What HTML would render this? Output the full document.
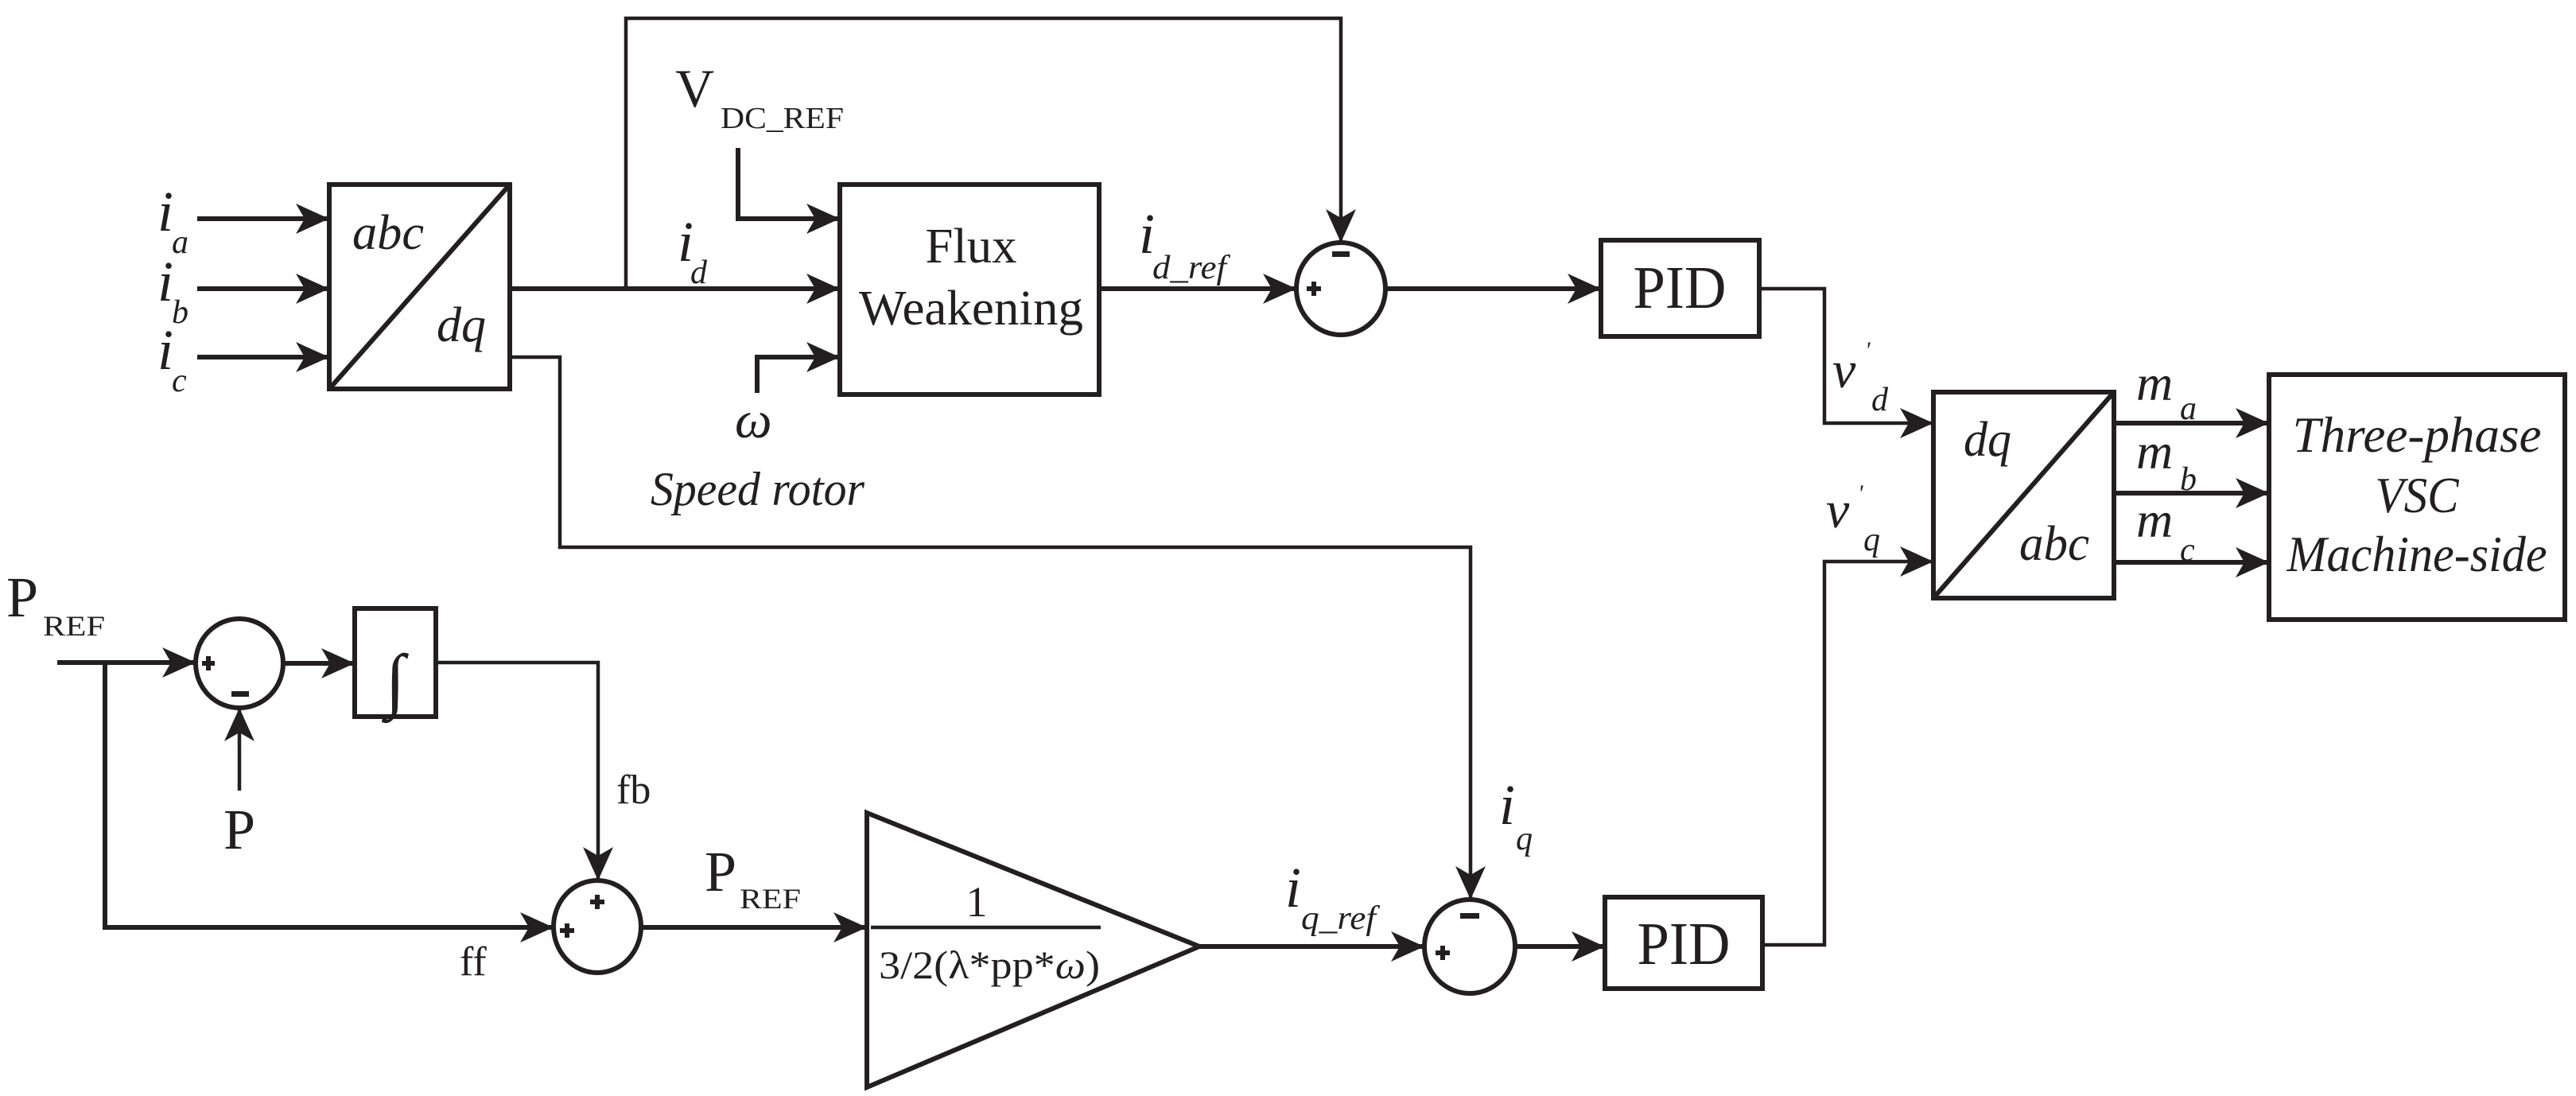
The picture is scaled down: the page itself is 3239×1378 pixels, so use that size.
<!DOCTYPE html>
<html><head><meta charset="utf-8"><style>html,body{margin:0;padding:0;background:#fff}svg{display:block}text{font-family:"Liberation Serif",serif;fill:#231f20}</style></head>
<body>
<svg width="3239" height="1378" viewBox="0 0 3239 1378" xmlns="http://www.w3.org/2000/svg">
<defs>
<marker id="a" markerUnits="userSpaceOnUse" markerWidth="44" markerHeight="40" refX="42" refY="19" orient="auto">
<path d="M0,0 L42,19 L0,38 L11,19 z" fill="#231f20"/>
</marker>
</defs>
<g fill="none" stroke="#231f20" stroke-width="6">
<path d="M248,275 H414" marker-end="url(#a)"/>
<path d="M248,363 H414" marker-end="url(#a)"/>
<path d="M248,449 H414" marker-end="url(#a)"/>
<rect x="414" y="232" width="227" height="257"/>
<path d="M414,489 L641,232"/>
<path d="M641,363 H1056" marker-end="url(#a)"/>
<path d="M928,186 V275 H1056" marker-end="url(#a)"/>
<path d="M952,494 V449 H1056" marker-end="url(#a)"/>
<rect x="1056" y="232" width="326" height="264"/>
<path d="M1382,363 H1630" marker-end="url(#a)"/>
<ellipse cx="1686" cy="363" rx="56" ry="58"/>
<path d="M1742,363 H2013" marker-end="url(#a)"/>
<rect x="2013" y="302" width="199" height="121"/>
<rect x="2431" y="493" width="227" height="259"/>
<path d="M2431,752 L2658,493"/>
<path d="M2658,532 H2853" marker-end="url(#a)"/>
<path d="M2658,620 H2853" marker-end="url(#a)"/>
<path d="M2658,707 H2853" marker-end="url(#a)"/>
<rect x="2853" y="471" width="372" height="308"/>
<path d="M72,833 H246" marker-end="url(#a)"/>
<ellipse cx="301" cy="834" rx="55" ry="56"/>
<path d="M356,834 H446" marker-end="url(#a)"/>
<rect x="446" y="765" width="102" height="136"/>
<path d="M132,833 V1166 H696" marker-end="url(#a)"/>
<ellipse cx="751" cy="1165" rx="55" ry="58"/>
<path d="M806,1166 H1090" marker-end="url(#a)"/>
<path d="M1090,1022 L1508,1190 L1090,1367 Z"/>
<path d="M1508,1190 H1791" marker-end="url(#a)"/>
<ellipse cx="1848" cy="1190" rx="57" ry="59"/>
<path d="M1905,1190 H2018" marker-end="url(#a)"/>
<rect x="2018" y="1128" width="198" height="115"/>
</g>
<g fill="none" stroke="#231f20" stroke-width="4.5">
<path d="M787,363 V23 H1686 V305" marker-end="url(#a)"/>
<path d="M641,449 H704 V688 H1849 V1131" marker-end="url(#a)"/>
<path d="M2212,363 H2294 V532 H2431" marker-end="url(#a)"/>
<path d="M2216,1188 H2294 V706 H2431" marker-end="url(#a)"/>
<path d="M548,833 H752 V1107" marker-end="url(#a)"/>
<path d="M301,994 V890" marker-end="url(#a)"/>
<path d="M1095,1166 H1384"/>
</g>
<g fill="#231f20">
<rect x="1643" y="360" width="18" height="6"/><rect x="1649" y="354" width="6" height="18"/>
<rect x="1675" y="316" width="22" height="7"/>
<rect x="254" y="831" width="16" height="6"/><rect x="259" y="825" width="6" height="18"/>
<rect x="291" y="869" width="22" height="7"/>
<rect x="742" y="1131" width="18" height="6"/><rect x="748" y="1125" width="6" height="18"/>
<rect x="704" y="1167" width="18" height="6"/><rect x="710" y="1161" width="6" height="18"/>
<rect x="1836" y="1148" width="24" height="7"/>
<rect x="1805" y="1195" width="18" height="6"/><rect x="1811" y="1189" width="6" height="18"/>
</g>
<g font-style="italic">
<text x="198" y="290" font-size="72">i</text><text x="216" y="318" font-size="42">a</text>
<text x="198" y="378" font-size="72">i</text><text x="216" y="406" font-size="42">b</text>
<text x="198" y="464" font-size="72">i</text><text x="216" y="492" font-size="42">c</text>
<text x="443" y="313" font-size="62" textLength="90" lengthAdjust="spacingAndGlyphs">abc</text>
<text x="549" y="429" font-size="62" textLength="62" lengthAdjust="spacingAndGlyphs">dq</text>
<text x="852" y="328" font-size="72">i</text><text x="868" y="356" font-size="42">d</text>
<text x="1432" y="318" font-size="72">i</text><text x="1449" y="350" font-size="42" textLength="93" lengthAdjust="spacingAndGlyphs">d_ref</text>
<text x="924" y="550" font-size="66">ω</text>
<text x="818" y="635" font-size="60" textLength="269" lengthAdjust="spacingAndGlyphs">Speed rotor</text>
<text x="2469" y="573" font-size="62" textLength="60" lengthAdjust="spacingAndGlyphs">dq</text>
<text x="2539" y="704" font-size="62" textLength="88" lengthAdjust="spacingAndGlyphs">abc</text>
<text x="2304" y="487" font-size="66">v</text><text x="2345" y="450" font-size="30">'</text><text x="2353" y="516" font-size="42">d</text>
<text x="2296" y="663" font-size="66">v</text><text x="2336" y="630" font-size="30">'</text><text x="2343" y="692" font-size="42">q</text>
<text x="2686" y="503" font-size="64">m</text><text x="2741" y="527" font-size="42">a</text>
<text x="2686" y="589" font-size="64">m</text><text x="2741" y="616" font-size="42">b</text>
<text x="2686" y="675" font-size="64">m</text><text x="2741" y="705" font-size="42">c</text>
<text x="3039" y="568" font-size="64" text-anchor="middle" textLength="313" lengthAdjust="spacingAndGlyphs">Three-phase</text>
<text x="3039" y="644" font-size="64" text-anchor="middle" textLength="105" lengthAdjust="spacingAndGlyphs">VSC</text>
<text x="3039" y="718" font-size="64" text-anchor="middle" textLength="327" lengthAdjust="spacingAndGlyphs">Machine-side</text>
<text x="1885" y="1036" font-size="72">i</text><text x="1906" y="1068" font-size="42">q</text>
<text x="1616" y="1140" font-size="72">i</text><text x="1636" y="1168" font-size="42" textLength="94" lengthAdjust="spacingAndGlyphs">q_ref</text>
</g>
<g>
<text x="849" y="134" font-size="68">V</text><text x="906" y="161" font-size="38" textLength="155" lengthAdjust="spacingAndGlyphs">DC_REF</text>
<text x="1221" y="330" font-size="62" text-anchor="middle" textLength="115" lengthAdjust="spacingAndGlyphs">Flux</text>
<text x="1221" y="408" font-size="62" text-anchor="middle" textLength="282" lengthAdjust="spacingAndGlyphs">Weakening</text>
<text x="2112" y="387" font-size="76" text-anchor="middle" textLength="117" lengthAdjust="spacingAndGlyphs">PID</text>
<text x="2117" y="1212" font-size="76" text-anchor="middle" textLength="117" lengthAdjust="spacingAndGlyphs">PID</text>
<text x="8" y="775" font-size="72">P</text><text x="54" y="799" font-size="36" textLength="78" lengthAdjust="spacingAndGlyphs">REF</text>
<text x="301" y="1067" font-size="72" text-anchor="middle">P</text>
<text x="497" y="885" font-size="90" font-style="italic" text-anchor="middle">∫</text>
<text x="775" y="1010" font-size="52">fb</text>
<text x="578" y="1226" font-size="52">ff</text>
<text x="886" y="1120" font-size="72">P</text><text x="930" y="1142" font-size="36" textLength="77" lengthAdjust="spacingAndGlyphs">REF</text>
<text x="1228" y="1152" font-size="54" text-anchor="middle">1</text>
<text x="1105" y="1230" font-size="50" textLength="278" lengthAdjust="spacingAndGlyphs">3/2(λ*pp*<tspan font-style="italic">ω</tspan>)</text>
</g>
</svg>
</body></html>
